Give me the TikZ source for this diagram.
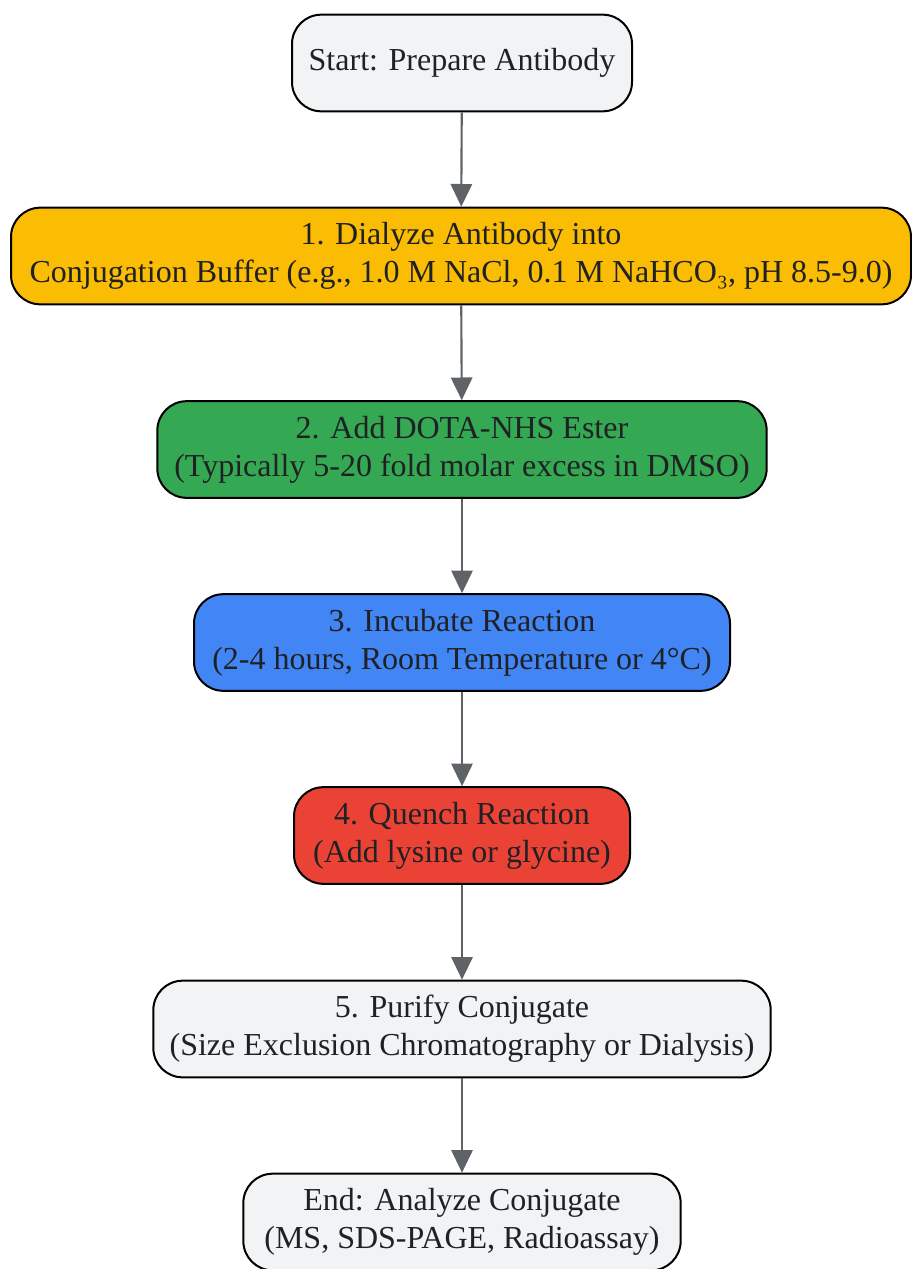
\documentclass[tikz,border=0pt]{standalone}
\usepackage{fontspec}
\setmainfont{Liberation Serif}
\usetikzlibrary{arrows.meta}
\definecolor{boxgray}{HTML}{F1F3F4}
\definecolor{boxyellow}{HTML}{FBBC04}
\definecolor{boxgreen}{HTML}{34A853}
\definecolor{boxblue}{HTML}{4285F4}
\definecolor{boxred}{HTML}{EA4335}
\definecolor{arrowgray}{HTML}{5F6368}
\definecolor{textdark}{HTML}{202124}
\tikzset{
	every step/.style={
		draw=black,
		line width=1.5pt,
		rounded corners=22pt,
		minimum height=72.5pt,
		align=center,
		text=textdark,
		font=\fontsize{24}{28.5}\selectfont
	},
	flow arrow/.style={
		draw=arrowgray,
		line width=1.6pt,
		-{Triangle[length=17pt,width=16pt]}
	},
}

\begin{document}
\begin{tikzpicture}[x=0.75pt, y=-0.75pt]

\useasboundingbox (0,0) rectangle (912,1269);

\node [every step/.try, fill=boxgray, minimum width=255pt] (start) at (462,63)
	{Start: Prepare Antibody};
\node [every step/.try, fill=boxyellow, minimum width=675pt] (dialyze) at (461,256)
	{1. Dialyze Antibody into\\Conjugation Buffer (e.g., 1.0 M NaCl, 0.1 M NaHCO₃, pH 8.5-9.0)};
\node [every step/.try, fill=boxgreen, minimum width=457pt] (addester) at (462,449.5)
	{2. Add DOTA-NHS Ester\\(Typically 5-20 fold molar excess in DMSO)};
\node [every step/.try, fill=boxblue, minimum width=402pt] (incubate) at (462,642.5)
	{3. Incubate Reaction\\(2-4 hours, Room Temperature or 4°C)};
\node [every step/.try, fill=boxred, minimum width=252pt] (quench) at (462,835.5)
	{4. Quench Reaction\\(Add lysine or glycine)};
\node [every step/.try, fill=boxgray, minimum width=463pt] (purify) at (462,1029)
	{5. Purify Conjugate\\(Size Exclusion Chromatography or Dialysis)};
\node [every step/.try, fill=boxgray, minimum width=328pt] (analyze) at (462,1222)
	{End: Analyze Conjugate\\(MS, SDS-PAGE, Radioassay)};

\foreach \a/\b in {start/dialyze, dialyze/addester, addester/incubate,
		incubate/quench, quench/purify, purify/analyze}
	\draw [flow arrow] (\a) -- (\b);

\end{tikzpicture}
\end{document}
